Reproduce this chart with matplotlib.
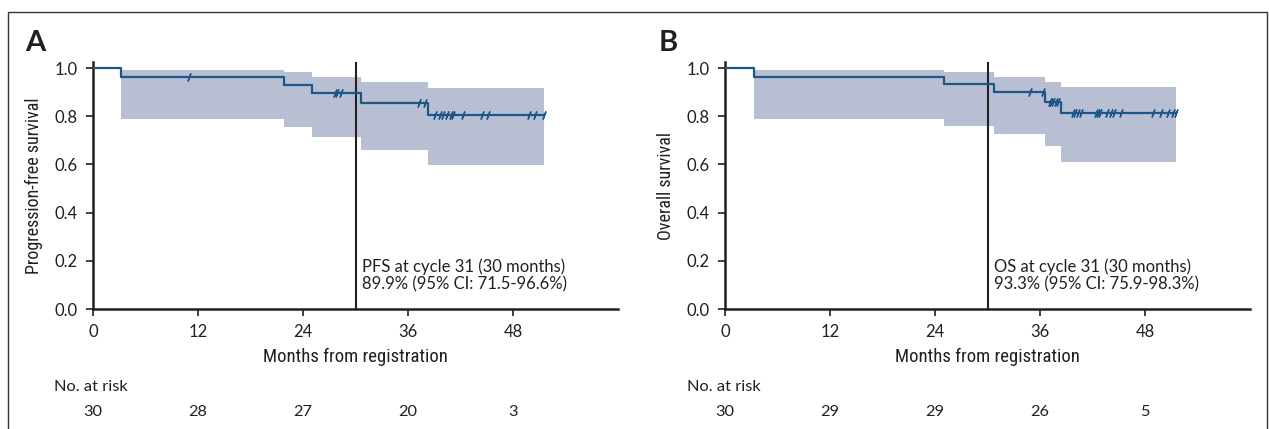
import numpy as np
import matplotlib
matplotlib.use("Agg")
import matplotlib.pyplot as plt
from matplotlib.patches import Rectangle

plt.rcParams['font.family'] = ['Lato', 'DejaVu Sans']
NARROW = ['Liberation Sans Narrow', 'Roboto Condensed', 'Open Sans Condensed', 'Roboto']

# panel A: progression-free survival
times_a = [0, 3.2, 21.8, 25.0, 30.6, 38.3, 51.5]
surv_a = [1.0, 0.964, 0.929, 0.896, 0.856, 0.805, 0.805]
cens_a = [11.0, 27.6, 27.9, 28.3, 37.3, 37.9, 39.1, 39.7, 40.0, 40.4, 40.9,
          41.1, 42.3, 44.4, 45.1, 49.8, 50.5, 51.5]
ci_t_a = [3.2, 21.8, 25.0, 30.6, 38.3, 51.5]
ci_hi_a = [0.992, 0.982, 0.964, 0.941, 0.916, 0.916]
ci_lo_a = [0.787, 0.757, 0.715, 0.660, 0.598, 0.598]
risk_a = [30, 28, 27, 20, 3]

# panel B: overall survival
times_b = [0, 3.3, 25.0, 30.7, 36.6, 38.4, 51.5]
surv_b = [1.0, 0.964, 0.934, 0.900, 0.860, 0.812, 0.812]
cens_b = [34.9, 36.3, 37.1, 37.3, 37.5, 37.8, 38.1, 39.8, 40.0, 40.3, 40.7,
          42.4, 42.6, 42.8, 43.7, 44.1, 44.5, 45.3, 48.9, 49.8, 50.6, 51.2, 51.5]
ci_t_b = [3.3, 25.0, 30.7, 36.6, 38.4, 51.5]
ci_hi_b = [0.992, 0.985, 0.964, 0.943, 0.920, 0.920]
ci_lo_b = [0.787, 0.761, 0.725, 0.678, 0.611, 0.611]
risk_b = [30, 29, 29, 26, 5]

risk_ticks = [0, 12, 24, 36, 48]
landmark = 30

LINE = '#1d5689'
BAND = '#b9bfd3'
DARK = '#231f20'

fig = plt.figure(figsize=(12.69, 4.29), dpi=100)
fig.patches.append(Rectangle((8 / 1269, -0.1), 1259 / 1269, 1.1 - 12 / 429,
                             transform=fig.transFigure, fill=False,
                             edgecolor='#333333', lw=1.0))


def km_panel(left, letter, times, surv, cens, ci_t, ci_hi, ci_lo, risk, ylabel, note):
    ax = fig.add_axes([left, 1 - 309 / 429, 525 / 1269, 247 / 429])
    ax.fill_between(ci_t, ci_lo, ci_hi, step='post', color=BAND, lw=0)
    ax.step(times, surv, where='post', color=LINE, lw=1.6, zorder=3)
    idx = np.searchsorted(times, cens, side='right') - 1
    ax.plot(cens, np.array(surv)[idx], ls='none', marker=(2, 2, -20),
            ms=6, mew=1.0, mec=LINE, zorder=4)
    ax.axvline(landmark, color=DARK, lw=1.5, zorder=2)
    ax.text(landmark + 0.7, 0.068, note, fontsize=12, color=DARK,
            linespacing=1.15, va='bottom', ha='left')

    ax.set_xlim(0, 60)
    ax.set_ylim(0, 1.025)
    ax.set_xticks(risk_ticks)
    ax.set_yticks([0, 0.2, 0.4, 0.6, 0.8, 1.0])
    ax.set_yticklabels(['0.0', '0.2', '0.4', '0.6', '0.8', '1.0'])
    for s in ['top', 'right']:
        ax.spines[s].set_visible(False)
    for s in ['left', 'bottom']:
        ax.spines[s].set_linewidth(1.8)
        ax.spines[s].set_color(DARK)
    ax.tick_params(direction='out', length=5, width=1.2, color=DARK,
                   labelsize=12, labelcolor=DARK, pad=6)

    tr = ax.get_xaxis_transform()
    ax.text(30, -0.195, 'Months from registration', transform=tr, ha='center',
            va='center', fontsize=13.5, family=NARROW, stretch='condensed', color=DARK)
    ax.text(-4.4, -0.316, 'No. at risk', transform=tr, ha='left', va='center',
            fontsize=11.8, color=DARK)
    for t, n in zip(risk_ticks, risk):
        ax.text(t, -0.417, str(n), transform=tr, ha='center', va='center',
                fontsize=11.8, color=DARK)
    ax.text(-0.112, 0.5, ylabel, transform=ax.transAxes, rotation=90,
            ha='center', va='center', fontsize=13, family=NARROW,
            stretch='condensed', color=DARK)
    ax.text(-0.109, 1.077, letter, transform=ax.transAxes, ha='center',
            va='center', fontsize=21, fontweight='bold', color=DARK)
    return ax


km_panel(93 / 1269, 'A', times_a, surv_a, cens_a, ci_t_a, ci_hi_a, ci_lo_a, risk_a,
         'Progression-free survival',
         'PFS at cycle 31 (30 months)\n89.9% (95% CI: 71.5-96.6%)')
km_panel(725 / 1269, 'B', times_b, surv_b, cens_b, ci_t_b, ci_hi_b, ci_lo_b, risk_b,
         'Overall survival',
         'OS at cycle 31 (30 months)\n93.3% (95% CI: 75.9-98.3%)')

fig.savefig('out.png', dpi=100)
